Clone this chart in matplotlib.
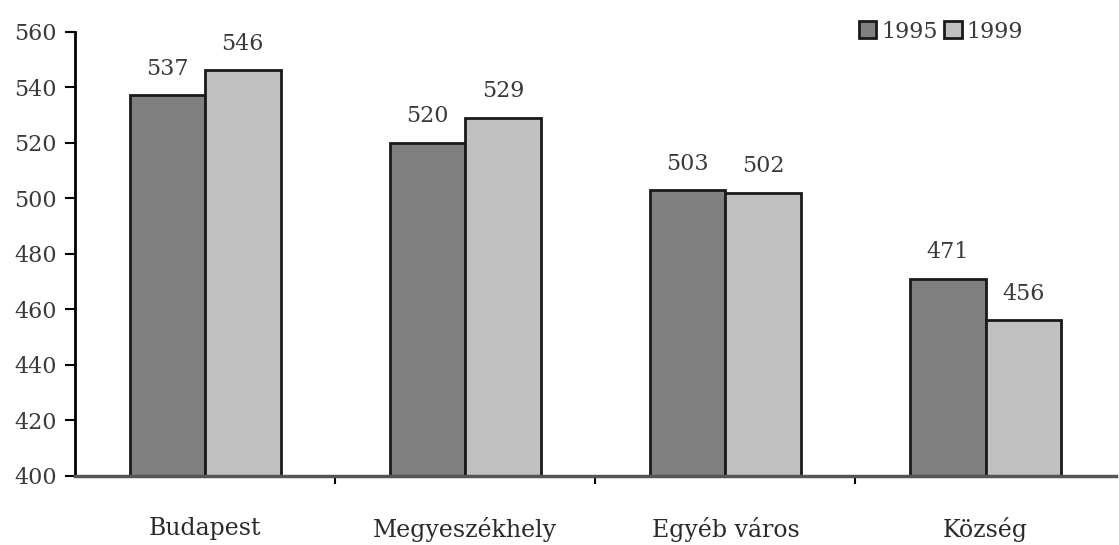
import numpy as np
import matplotlib.pyplot as plt

categories = ['Budapest', 'Megyeszékhely', 'Egyéb város', 'Község']
years = ['1995', '1999']
v1995 = [537, 520, 503, 471]
v1999 = [546, 529, 502, 456]

plt.rcParams['font.family'] = ['DejaVu Serif']

fig = plt.figure(figsize=(11.19, 5.45), dpi=100)
ax = fig.add_axes([0.067, 0.127, 0.93, 0.815])

x = np.arange(len(categories))
w = 0.29
b1 = ax.bar(x - w / 2, np.array(v1995) - 400, w, bottom=400, color='#808080',
            edgecolor='#1a1a1a', linewidth=2, label=years[0])
b2 = ax.bar(x + w / 2, np.array(v1999) - 400, w, bottom=400, color='#c0c0c0',
            edgecolor='#1a1a1a', linewidth=2, label=years[1])

for bars, vals in ((b1, v1995), (b2, v1999)):
    for r, v in zip(bars, vals):
        ax.text(r.get_x() + r.get_width() / 2, v + 5.5, str(v), ha='center',
                va='bottom', fontsize=16, color='#3a3a3a')

ax.set_xlim(-0.5, 3.5)
ax.set_ylim(400, 560)
ax.set_yticks(range(400, 561, 20))
ax.set_xticks(x)
ax.set_xticklabels(categories, fontsize=17, color='#2a2a2a')
ax.set_xticks([0.5, 1.5, 2.5], minor=True)
ax.tick_params(axis='x', which='major', length=0, pad=30)
ax.tick_params(axis='x', which='minor', length=6, width=1.5, direction='out')
ax.tick_params(axis='y', labelsize=16, length=7, width=1.5, direction='out',
               pad=6, labelcolor='#3a3a3a')
for s in ('top', 'right'):
    ax.spines[s].set_visible(False)
ax.spines['left'].set_linewidth(2)
ax.spines['bottom'].set_linewidth(2.5)
ax.spines['bottom'].set_color('#555555')

ax.legend(loc='upper right', bbox_to_anchor=(0.93, 1.07), ncol=2, frameon=False,
          fontsize=16, handlelength=0.8, handleheight=0.8, handletextpad=0.2,
          columnspacing=0.3, labelcolor='#3a3a3a')

fig.savefig('out.png', dpi=100)
